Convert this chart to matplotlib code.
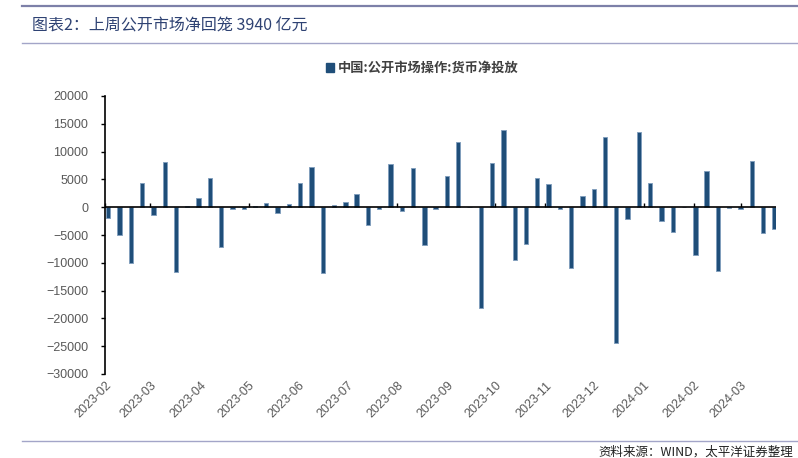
import pandas as pd
import matplotlib.pyplot as plt
from matplotlib.patches import Patch
from matplotlib.lines import Line2D

plt.rcParams['font.family'] = ['Noto Sans CJK SC', 'DejaVu Sans']

# 周度数据（每周五），单位：亿元
fechas = pd.date_range(start='2023-02-03', periods=60, freq='W-FRI')
neto = [-1900, -5000, -10000, 4400, -1400, 8200, -11600, 300, 1700, 5200,
        -7100, -300, -300, 200, 700, -1000, 500, 4300, 7300, -11800,
        400, 900, 2300, -3200, -400, 7700, -600, 7000, -6800, -300,
        5600, 11700, 0, -18100, 8000, 13800, -9500, -6700, 5200, 4100,
        -300, -10900, 2100, 3200, 12700, -24500, -2100, 13500, 4300, -2500,
        -4400, 0, -8600, 6500, -11500, -200, -300, 8300, -4700, -3940]

meses = pd.date_range(start='2023-02-01', end='2024-03-01', freq='MS')
yticks = list(range(-30000, 20001, 5000))

titulo = '图表2：上周公开市场净回笼 3940 亿元'
serie = '中国:公开市场操作:货币净投放'
fuente = '资料来源：WIND，太平洋证券整理'

color_bar = '#1f4e79'
gris = '#595959'

fig = plt.figure(figsize=(7.98, 4.58), dpi=100)
ax = fig.add_axes([105 / 798, 1 - 374 / 458, (776 - 105) / 798, (374 - 96) / 458])

ax.bar(fechas, neto, width=2.7, color=color_bar, edgecolor='#7f9dbd',
       linewidth=0.6, joinstyle='round', zorder=3)
ax.axhline(0, color='black', lw=1.2, zorder=4)

ax.set_ylim(-30000, 20000)
ax.set_xlim(pd.Timestamp('2023-02-01'), pd.Timestamp('2024-03-23'))
ax.set_yticks(yticks)
ax.tick_params(axis='y', length=3, width=1, pad=9, labelsize=9, labelcolor=gris)
for t in ax.get_yticklabels():
    t.set_family(['Liberation Sans', 'DejaVu Sans'])

# etiquetas del eje x abajo, marcas sobre la línea del cero
ax.set_xticks(meses)
ax.set_xticklabels([m.strftime('%Y-%m') for m in meses], rotation=45,
                   ha='right', rotation_mode='anchor', fontsize=9, color=gris,
                   family=['Liberation Sans', 'DejaVu Sans'])
ax.tick_params(axis='x', length=0, pad=4)
sec = ax.secondary_xaxis(0.6)
sec.set_xticks(meses)
sec.tick_params(axis='x', length=3, width=1, labelbottom=False, labeltop=False,
                direction='out')
sec.spines['bottom'].set_visible(False)
sec.spines['top'].set_visible(False)

for s in ['top', 'right', 'bottom']:
    ax.spines[s].set_visible(False)
ax.spines['left'].set_linewidth(1.2)

# leyenda
fig.legend(handles=[Patch(facecolor=color_bar, edgecolor=color_bar)], labels=[serie],
           loc='center', bbox_to_anchor=(0.529, 1 - 68 / 458), frameon=False,
           handlelength=0.6, handleheight=0.6, handletextpad=0.3,
           prop={'size': 9.5, 'weight': 'bold'}, labelcolor='#404040')

# encabezado y pie
fig.add_artist(Line2D([22 / 798, 1], [1 - 6 / 458] * 2, color='#7d80a8', lw=1.6))
fig.add_artist(Line2D([22 / 798, 1], [1 - 43 / 458] * 2, color='#a3a5c8', lw=1))
fig.add_artist(Line2D([22 / 798, 1], [1 - 441 / 458] * 2, color='#a3a5c8', lw=1))
fig.text(32 / 798, 1 - 26 / 458, titulo, fontsize=11.5, color='#2e4273',
         va='center', ha='left')
fig.text(0.994, 1 - 452 / 458, fuente, fontsize=9, color='#222222',
         va='center', ha='right')

fig.savefig('out.png', dpi=100)
